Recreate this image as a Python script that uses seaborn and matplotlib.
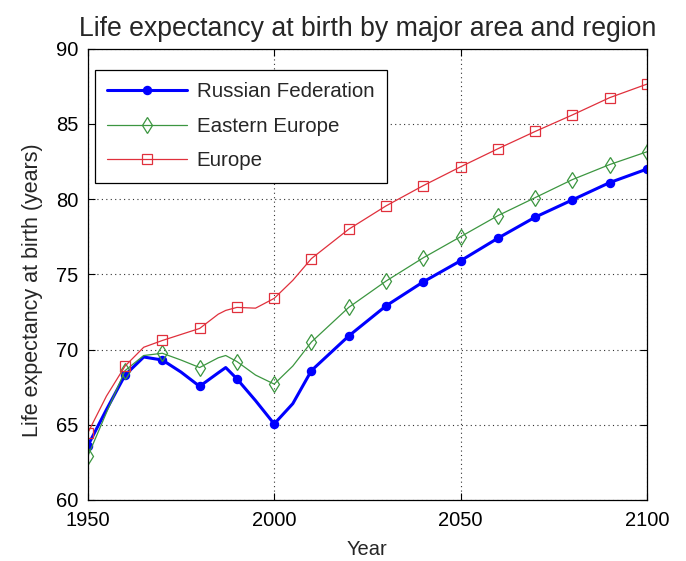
import numpy as np
import pandas as pd
import matplotlib
matplotlib.use("Agg")
import matplotlib.pyplot as plt
import seaborn as sns

# Data (markers every 10 years; extra 5-year points give the curve shape)
years = [1950, 1955, 1960, 1965, 1970, 1975, 1980, 1985, 1987, 1990, 1995, 2000, 2005, 2010,
         2020, 2030, 2040, 2050, 2060, 2070, 2080, 2090, 2100]
russia = [63.6, 66.0, 68.3, 69.5, 69.3, 68.5, 67.55, 68.45, 68.8, 68.05, 66.6, 65.05, 66.4, 68.6,
          70.9, 72.9, 74.5, 75.9, 77.4, 78.8, 79.95, 81.1, 82.0]
eastern = [62.9, 65.8, 68.6, 69.6, 69.75, 69.3, 68.8, 69.45, 69.6, 69.2, 68.3, 67.7, 68.9, 70.5,
           72.8, 74.55, 76.1, 77.5, 78.9, 80.1, 81.3, 82.3, 83.15]
europe = [64.45, 66.9, 68.9, 70.15, 70.6, 71.0, 71.4, 72.35, 72.6, 72.8, 72.75, 73.4, 74.6, 76.05,
          78.0, 79.55, 80.9, 82.15, 83.35, 84.5, 85.6, 86.75, 87.65]
series_names = ["Russian Federation", "Eastern Europe", "Europe"]
x_ticks = [1950, 2000, 2050, 2100]
y_ticks = [60, 65, 70, 75, 80, 85, 90]

df = pd.DataFrame({"Year": years, series_names[0]: russia,
                   series_names[1]: eastern, series_names[2]: europe})
decade_mask = [y % 10 == 0 for y in years]

sns.set_theme(style="white")
plt.rcParams["font.family"] = ["Liberation Sans", "DejaVu Sans"]

fig = plt.figure(figsize=(6.86, 5.61), dpi=100)
ax = fig.add_axes([0.128, 0.109, 0.815, 0.804])

styles = {
    "Russian Federation": dict(color="#0000ff", lw=2.2, marker="o", ms=5.8,
                               mfc="#0000ff", mec="#0000ff"),
    "Eastern Europe": dict(color="#3c9640", lw=0.9, marker="d", ms=8,
                           mfc="none", mec="#3c9640", mew=0.9),
    "Europe": dict(color="#e0303c", lw=0.9, marker="s", ms=7.5,
                   mfc="none", mec="#e0303c", mew=0.9),
}

for name in series_names:
    st = styles[name]
    sns.lineplot(data=df, x="Year", y=name, ax=ax, label=name,
                 color=st["color"], linewidth=st["lw"], marker=st["marker"],
                 markersize=st["ms"], markerfacecolor=st["mfc"],
                 markeredgecolor=st["mec"], markeredgewidth=st.get("mew", 1),
                 markevery=decade_mask)

ax.set_xlim(1950, 2100)
ax.set_ylim(60, 90)
ax.set_xticks(x_ticks)
ax.set_yticks(y_ticks)
ax.grid(True, linestyle=(0, (1, 3)), color="#333333", linewidth=0.8)
for s in ax.spines.values():
    s.set_color("black")
    s.set_linewidth(0.9)
ax.tick_params(direction="in", length=5, width=0.8, colors="black",
               top=True, right=True, bottom=True, left=True, labelsize=14.5)
ax.tick_params(axis="x", pad=8)
ax.tick_params(axis="y", pad=7)

ax.set_title("Life expectancy at birth by major area and region", fontsize=19.2, pad=9)
ax.set_xlabel("Year", fontsize=14.5, labelpad=7)
ax.set_ylabel("Life expectancy at birth (years)", fontsize=15.5)
ax.yaxis.set_label_coords(-0.08, 0.465)

leg = ax.legend(loc="upper left", bbox_to_anchor=(0.0125, 0.9534), borderaxespad=0,
                fontsize=14.8, frameon=True, fancybox=False, edgecolor="black",
                framealpha=1, handlelength=3.9, borderpad=0.6, labelspacing=0.76,
                handletextpad=0.45)
leg.get_frame().set_linewidth(0.9)

fig.savefig("out.png", dpi=100)
